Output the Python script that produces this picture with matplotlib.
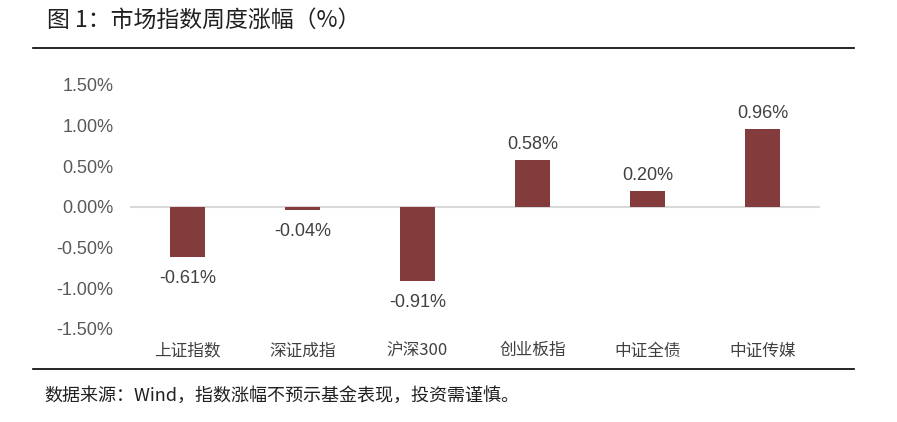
import matplotlib
matplotlib.use('Agg')
import matplotlib.pyplot as plt
from matplotlib.lines import Line2D
import numpy as np

plt.rcParams['font.family'] = ['Liberation Sans', 'Noto Sans CJK SC', 'DejaVu Sans']

cats = ['上证指数', '深证成指', '沪深300', '创业板指', '中证全债', '中证传媒']
vals = [-0.61, -0.04, -0.91, 0.58, 0.20, 0.96]
yticks = [-1.5, -1.0, -0.5, 0.0, 0.5, 1.0, 1.5]
bar_color = '#833C3B'
cjk = ['Noto Sans CJK SC', 'DejaVu Sans']

fig = plt.figure(figsize=(8.97, 4.22), dpi=100)
ax = fig.add_axes([0.1449, 0.2204, 0.7692, 0.5782])

x = np.arange(len(cats))
ax.bar(x, vals, width=0.31, color=bar_color, zorder=3)
ax.axhline(0, color='#D9D9D9', linewidth=1.5, zorder=2)
ax.set_xlim(-0.5, len(cats) - 0.5)
ax.set_ylim(-1.5, 1.5)
ax.set_yticks(yticks)
ax.set_yticklabels([f'{v:.2f}%' for v in yticks], fontsize=13, color='#595959')
ax.tick_params(axis='y', length=0, pad=12)
ax.set_xticks([])
for s in ax.spines.values():
    s.set_visible(False)

for xi, v in zip(x, vals):
    if v >= 0:
        ax.text(xi, v + 0.08, f'{v:.2f}%', ha='center', va='bottom', fontsize=13, color='#404040')
    else:
        ax.text(xi, v - 0.16, f'{v:.2f}%', ha='center', va='top', fontsize=13, color='#404040')

# category labels below the plot
for xi, c in zip(x, cats):
    ax.text(xi, -1.77, c, ha='center', va='center', fontsize=12, color='#404040',
            family=cjk, clip_on=False)

fig.text(47 / 897, 1 - 20 / 422, '图 1：市场指数周度涨幅（%）', fontsize=16.5, color='#202020',
         ha='left', va='center', family=cjk)
fig.add_artist(Line2D([33 / 897, 854 / 897], [1 - 48 / 422] * 2, color='black', linewidth=1.2))
fig.add_artist(Line2D([33 / 897, 854 / 897], [1 - 369 / 422] * 2, color='black', linewidth=1.2))
fig.text(44 / 897, 1 - 396 / 422, '数据来源：Wind，指数涨幅不预示基金表现，投资需谨慎。', fontsize=13,
         color='#202020', ha='left', va='center', family=cjk)

fig.savefig('out.png', dpi=100)
